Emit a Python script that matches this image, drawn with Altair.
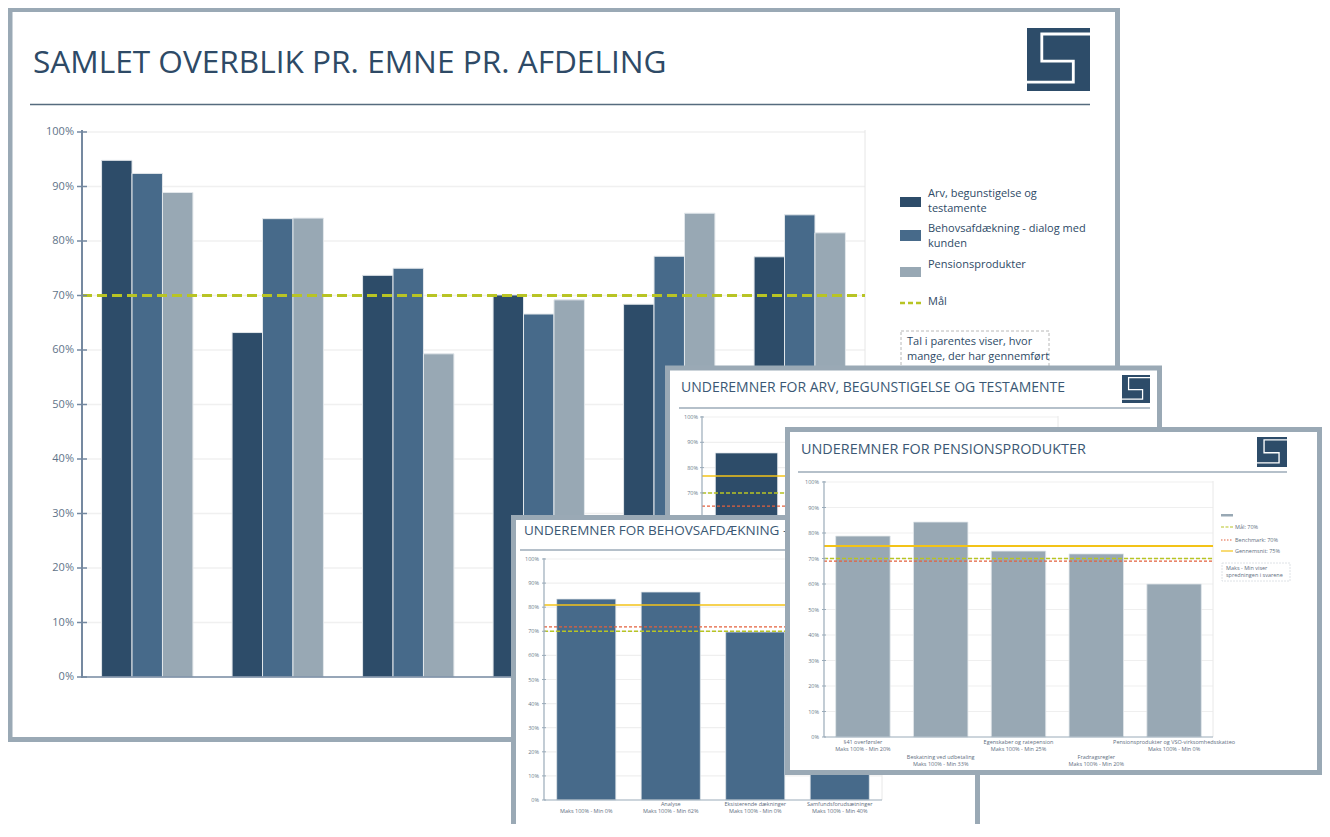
import altair as alt
import pandas as pd

# ---------------- data ----------------
main_title = "SAMLET OVERBLIK PR. EMNE PR. AFDELING"
departments = ["Afdeling 1", "Afdeling 2", "Afdeling 3", "Afdeling 4", "Afdeling 5", "Afdeling 6"]
series_names = ["Arv, begunstigelse og testamente", "Behovsafdækning - dialog med kunden", "Pensionsprodukter"]
arv_values = [0.948, 0.632, 0.737, 0.701, 0.684, 0.771]
behov_values = [0.924, 0.841, 0.750, 0.666, 0.772, 0.848]
pension_values = [0.889, 0.842, 0.593, 0.692, 0.851, 0.815]
goal_value = 0.70
legend_labels = ["Arv, begunstigelse og\ntestamente", "Behovsafdækning - dialog med\nkunden", "Pensionsprodukter"]
legend_goal_label = "Mål"
note_text = "Tal i parentes viser, hvor\nmange, der har gennemført"
pct_ticks = [0.0, 0.1, 0.2, 0.3, 0.4, 0.5, 0.6, 0.7, 0.8, 0.9, 1.0]

arv_title = "UNDEREMNER FOR ARV, BEGUNSTIGELSE OG TESTAMENTE"
arv_topics = ["Underemne 1", "Underemne 2", "Underemne 3", "Underemne 4"]
arv_topic_values = [0.858]          # only the first bar is visible
arv_avg, arv_goal, arv_bench = 0.767, 0.70, 0.648

behov_title = "UNDEREMNER FOR BEHOVSAFDÆKNING -"   # visible part of the title
behov_topics = ["", "Analyse", "Eksisterende dækninger", "Samfundsforudsætninger"]
behov_spread = ["Maks 100% - Min 0%", "Maks 100% - Min 62%", "Maks 100% - Min 0%", "Maks 100% - Min 40%"]
behov_topic_values = [0.834, 0.863, 0.697, 0.74]
behov_avg, behov_goal, behov_bench = 0.809, 0.70, 0.718

pension_title = "UNDEREMNER FOR PENSIONSPRODUKTER"
pension_topics = ["§41 overførsler", "Beskatning ved udbetaling", "Egenskaber og ratepension",
                  "Fradragsregler", "Pensionsprodukter og VSO-virksomhedsskatteo"]
pension_spread = ["Maks 100% - Min 20%", "Maks 100% - Min 33%", "Maks 100% - Min 25%",
                  "Maks 100% - Min 20%", "Maks 100% - Min 0%"]
pension_topic_values = [0.788, 0.843, 0.729, 0.718, 0.600]
pension_avg, pension_goal, pension_bench = 0.749, 0.70, 0.69
pension_legend = ["Mål: 70%", "Benchmark: 70%", "Gennemsnit: 75%"]
pension_note = "Maks - Min viser\nspredningen i svarene"

# ---------------- styles ----------------
FONT = "Open Sans"
C_DARK = "#2d4c69"
C_MID = "#476a8a"
C_LIGHT = "#98a8b4"
C_FRAME = "#9aa9b5"
C_TEXT = "#2e4a66"
C_SUBTEXT = "#3b5874"
C_AXIS = "#7589a0"
C_TICK = "#5f7489"
C_GRID = "#efefef"
C_GOAL = "#b8c424"
C_BENCH = "#e3603c"
C_AVG = "#f3c318"
C_BARSTROKE = "#e2e7eb"

OFF = 8
def X(v): return v - OFF
def Y(v): return v - OFF

ONE = pd.DataFrame({"k": [0]})
layers = []

def rect(x0, y0, x1, y1, **mk):
    return alt.Chart(ONE).mark_rect(**mk).encode(
        x=alt.value(X(x0)), x2=alt.value(X(x1)), y=alt.value(Y(y0)), y2=alt.value(Y(y1)))

def hrule(x0, x1, y, **mk):
    return alt.Chart(ONE).mark_rule(**mk).encode(
        x=alt.value(X(x0)), x2=alt.value(X(x1)), y=alt.value(Y(y)))

def vrule(x, y0, y1, **mk):
    return alt.Chart(ONE).mark_rule(**mk).encode(
        x=alt.value(X(x)), y=alt.value(Y(y0)), y2=alt.value(Y(y1)))

def label(txt, x, y, **mk):
    return alt.Chart(pd.DataFrame({"t": [txt]})).mark_text(font=FONT, lineBreak="\n", **mk).encode(
        text="t:N", x=alt.value(X(x)), y=alt.value(Y(y)))

LOGO_PATH = "M 1 -0.81 L -0.53 -0.81 L -0.53 0.05 L 0.47 0.05 L 0.47 0.72 L -1 0.72"
def logo(x0, y0, s):
    return [
        rect(x0, y0, x0 + s, y0 + s, fill=C_DARK),
        alt.Chart(ONE).mark_point(shape=LOGO_PATH, size=s * s, filled=False, color="white",
                                  stroke="white", strokeWidth=max(1.2, s * 0.045), opacity=1).encode(
            x=alt.value(X(x0 + s / 2)), y=alt.value(Y(y0 + s / 2))),
    ]

def yscale(y0, y100):
    return alt.Scale(domain=[0, 1], range=[Y(y0), Y(y100)], nice=False)

def xscale(domain, x0, x1):
    return alt.Scale(domain=domain, range=[X(x0), X(x1)], paddingInner=0.3, paddingOuter=0.15)

def grid(ys, x0, x1, color=C_GRID, width=1.2):
    return alt.Chart(pd.DataFrame({"v": pct_ticks[1:]})).mark_rule(color=color, strokeWidth=width).encode(
        x=alt.value(X(x0)), x2=alt.value(X(x1)), y=alt.Y("v:Q", scale=ys, axis=None))

def ticks(ys, x0, x1, color, width):
    return alt.Chart(pd.DataFrame({"v": pct_ticks})).mark_rule(color=color, strokeWidth=width).encode(
        x=alt.value(X(x0)), x2=alt.value(X(x1)), y=alt.Y("v:Q", scale=ys, axis=None))

def ticklabels(ys, x, size, color):
    return alt.Chart(pd.DataFrame({"v": pct_ticks})).mark_text(
        align="right", baseline="middle", font=FONT, fontSize=size, color=color).encode(
        x=alt.value(X(x)), y=alt.Y("v:Q", scale=ys, axis=None), text=alt.Text("v:Q", format=".0%"))

def refline(value, ys, x0, x1, color, width, dash=None):
    mk = dict(color=color, strokeWidth=width)
    if dash:
        mk["strokeDash"] = dash
    return alt.Chart(pd.DataFrame({"v": [value]})).mark_rule(**mk).encode(
        x=alt.value(X(x0)), x2=alt.value(X(x1)), y=alt.Y("v:Q", scale=ys, axis=None))

def subbars(topics, values, xs, ys, color):
    df = pd.DataFrame({"topic": topics[:len(values)], "value": values})
    return alt.Chart(df).mark_bar(color=color, stroke=C_BARSTROKE, strokeWidth=0.8).encode(
        x=alt.X("topic:N", scale=xs, axis=None), y=alt.Y("value:Q", scale=ys, axis=None))

def xlabels(topics, spreads, xs, y_name, y_spread, size, color, parity=None):
    df = pd.DataFrame({"topic": topics, "spread": spreads})
    base = alt.Chart(df)
    if parity is not None:
        base = base.transform_window(rn="row_number()").transform_filter(f"datum.rn % 2 == {parity}")
    mk = dict(baseline="middle", font=FONT, fontSize=size, color=color)
    return [
        base.mark_text(**mk).encode(x=alt.X("topic:N", scale=xs, axis=None), y=alt.value(Y(y_name)), text="topic:N"),
        base.mark_text(**mk).encode(x=alt.X("topic:N", scale=xs, axis=None), y=alt.value(Y(y_spread)), text="spread:N"),
    ]

def frame(x0, y0, x1, y1):
    return rect(x0, y0, x1, y1, fill="white", stroke=C_FRAME, strokeWidth=5)

# ---------------- main slide ----------------
layers.append(frame(10, 9.5, 1117.5, 739.5))
layers.append(label(main_title, 33, 72.5, fontSize=31.6, color=C_TEXT, align="left", baseline="alphabetic"))
layers.append(hrule(30, 1090, 104.5, color="#566b7e", strokeWidth=1.5))
layers += logo(1027, 28, 63)

main_y = yscale(677, 132)
main_x = xscale(departments, 82, 865)
layers.append(grid(main_y, 84, 865, color="#f0f0f0", width=1.5))
layers.append(vrule(865, 130, 677, color="#e6e6e6", strokeWidth=1))

main_df = pd.DataFrame({
    "dept": departments * len(series_names),
    "series": [s for s in series_names for _ in departments],
    "value": arv_values + behov_values + pension_values,
})
layers.append(alt.Chart(main_df).mark_bar(stroke=C_BARSTROKE, strokeWidth=1).encode(
    x=alt.X("dept:N", scale=main_x, axis=None),
    xOffset=alt.XOffset("series:N", scale=alt.Scale(domain=series_names, paddingInner=0, paddingOuter=0)),
    y=alt.Y("value:Q", scale=main_y, axis=None),
    color=alt.Color("series:N", scale=alt.Scale(domain=series_names, range=[C_DARK, C_MID, C_LIGHT]), legend=None),
))
layers.append(refline(goal_value, main_y, 82, 865, C_GOAL, 3, [10, 5]))
layers.append(vrule(82, 130, 678, color=C_AXIS, strokeWidth=2))
layers.append(hrule(82, 865, 677, color=C_AXIS, strokeWidth=1.5))
layers.append(ticks(main_y, 77, 87, C_AXIS, 1.5))
layers.append(ticklabels(main_y, 74, 11, C_TICK))

# legend
sw_rows = [(197, 207, 194), (230, 241, 229), (267, 277, 265)]
sw_colors = [C_DARK, C_MID, C_LIGHT]
for (t0, t1, ty), col, txt in zip(sw_rows, sw_colors, legend_labels):
    layers.append(rect(900, t0, 921, t1, fill=col))
    layers.append(label(txt, 928, ty - 6.5, fontSize=11, color=C_TEXT, align="left", baseline="top", lineHeight=15))
layers.append(hrule(900, 921, 303, color=C_GOAL, strokeWidth=2.5, strokeDash=[5, 3]))
layers.append(label(legend_goal_label, 928, 302, fontSize=11, color=C_TEXT, align="left", baseline="middle"))
layers.append(rect(901, 331, 1049, 420, fill="white", stroke="#b8b8b8", strokeWidth=1, strokeDash=[3, 2]))
layers.append(label(note_text, 907, 336, fontSize=11, color=C_TEXT, align="left", baseline="top", lineHeight=15))

# ---------------- ARV slide ----------------
layers.append(frame(667.5, 368, 1159.5, 690))
layers.append(label(arv_title, 681, 388, fontSize=14, color=C_SUBTEXT, align="left", baseline="middle"))
layers.append(hrule(679, 1150, 408, color="#b5c0ca", strokeWidth=2))
layers += logo(1122, 375, 28)
arv_y = yscale(670, 417)
arv_x = xscale(arv_topics, 702, 1058)
layers.append(grid(arv_y, 703, 1058))
layers.append(vrule(1058, 416, 670, color="#e8e8e8", strokeWidth=1))
layers.append(subbars(arv_topics, arv_topic_values, arv_x, arv_y, C_DARK))
layers.append(refline(arv_avg, arv_y, 702, 1058, C_AVG, 1.5))
layers.append(refline(arv_goal, arv_y, 702, 1058, C_GOAL, 1.5, [4, 2]))
layers.append(refline(arv_bench, arv_y, 702, 1058, C_BENCH, 1.3, [3, 2]))
layers.append(vrule(702, 416, 670, color="#9aabb9", strokeWidth=1.2))
layers.append(ticks(arv_y, 700, 704, "#9aabb9", 1))
layers.append(ticklabels(arv_y, 698, 5.5, "#6a7b8b"))

# ---------------- Behovsafdækning slide ----------------
layers.append(frame(513.5, 517.5, 977.5, 836))
layers.append(label(behov_title, 524, 531, fontSize=13.5, color=C_SUBTEXT, align="left", baseline="middle"))
layers.append(hrule(520, 975, 550, color="#b5c0ca", strokeWidth=2))
behov_y = yscale(800, 559)
behov_x = xscale(behov_topics, 544, 882)
layers.append(grid(behov_y, 545, 882))
layers.append(vrule(882, 558, 800, color="#e8e8e8", strokeWidth=1))
layers.append(subbars(behov_topics, behov_topic_values, behov_x, behov_y, C_MID))
layers.append(refline(behov_avg, behov_y, 544, 882, C_AVG, 1.5))
layers.append(refline(behov_bench, behov_y, 544, 882, C_BENCH, 1.3, [3, 2]))
layers.append(refline(behov_goal, behov_y, 544, 882, C_GOAL, 1.5, [4, 2]))
layers.append(vrule(544, 558, 800, color="#9aabb9", strokeWidth=1.2))
layers.append(hrule(544, 882, 800, color="#9aabb9", strokeWidth=1))
layers.append(ticks(behov_y, 542, 546, "#9aabb9", 1))
layers.append(ticklabels(behov_y, 539, 5.5, "#6a7b8b"))
layers += xlabels(behov_topics, behov_spread, behov_x, 804, 811, 5.5, "#5f6f7f")

# ---------------- Pensionsprodukter slide ----------------
layers.append(frame(787.5, 429.5, 1319.5, 772.5))
layers.append(label(pension_title, 801, 450, fontSize=14.4, color=C_SUBTEXT, align="left", baseline="middle"))
layers.append(hrule(798, 1287, 472, color="#b5c0ca", strokeWidth=2))
layers += logo(1257, 437, 30)
pension_y = yscale(737, 482)
pension_x = xscale(pension_topics, 824, 1213)
layers.append(grid(pension_y, 825, 1213))
layers.append(vrule(1213, 481, 737, color="#e8e8e8", strokeWidth=1))
layers.append(subbars(pension_topics, pension_topic_values, pension_x, pension_y, C_LIGHT))
layers.append(refline(pension_avg, pension_y, 824, 1213, C_AVG, 2))
layers.append(refline(pension_goal, pension_y, 824, 1213, C_GOAL, 1.5, [4, 2]))
layers.append(refline(pension_bench, pension_y, 824, 1213, C_BENCH, 1.3, [3, 2]))
layers.append(vrule(824, 481, 737, color="#9aabb9", strokeWidth=1.2))
layers.append(hrule(824, 1213, 737, color="#9aabb9", strokeWidth=1))
layers.append(ticks(pension_y, 822, 826, "#9aabb9", 1))
layers.append(ticklabels(pension_y, 819, 5.5, "#6a7b8b"))
layers += xlabels(pension_topics, pension_spread, pension_x, 742, 749, 5.5, "#5f6f7f", parity=1)
layers += xlabels(pension_topics, pension_spread, pension_x, 757, 764, 5.5, "#5f6f7f", parity=0)

# pension legend
layers.append(rect(1221, 514, 1233, 516.5, fill=C_LIGHT))
leg_y = [527, 540, 551]
leg_style = [(C_GOAL, [3, 1.5]), (C_BENCH, [1.5, 1.5]), (C_AVG, None)]
for yy, (col, dash), txt in zip(leg_y, leg_style, pension_legend):
    mk = dict(color=col, strokeWidth=1.2)
    if dash:
        mk["strokeDash"] = dash
    layers.append(hrule(1221, 1233, yy, **mk))
    layers.append(label(txt, 1235, yy, fontSize=5.5, color="#5f6f7f", align="left", baseline="middle"))
layers.append(rect(1222, 563, 1290, 581, fill="white", stroke="#d5dbe0", strokeWidth=0.8, strokeDash=[2, 1]))
layers.append(label(pension_note, 1226, 565.5, fontSize=5.5, color="#5f6f7f", align="left", baseline="top", lineHeight=7.5))

chart = alt.layer(*layers).resolve_scale(
    x="independent", y="independent", xOffset="independent", color="independent"
).properties(
    width=1314, height=816, padding=0, autosize=alt.AutoSizeParams(type="none"), background="white"
).configure_view(stroke=None)

chart.save("out.html", embed_options={"renderer": "svg", "actions": False})
